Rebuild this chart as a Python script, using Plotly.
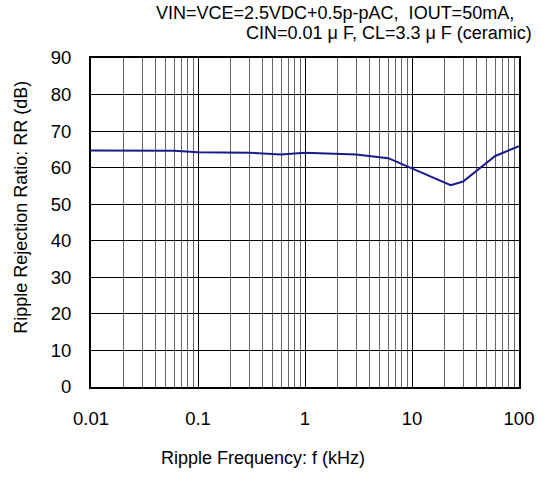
import plotly.graph_objects as go

freq_khz = [0.01, 0.06, 0.1, 0.3, 0.6, 1.0, 3.0, 6.0, 23, 30, 60, 100]
rr_db = [64.7, 64.6, 64.2, 64.1, 63.6, 64.1, 63.6, 62.6, 55.2, 56.2, 63.2, 65.9]

title_lines = ["VIN=VCE=2.5VDC+0.5p-pAC,  IOUT=50mA,",
               "CIN=0.01 μ F, CL=3.3 μ F (ceramic)"]
x_title = "Ripple Frequency: f (kHz)"
y_title = "Ripple Rejection Ratio: RR (dB)"
x_ticks = [0.01, 0.1, 1, 10, 100]
x_ticklabels = ["0.01", "0.1", "1", "10", "100"]

fig = go.Figure()
fig.add_trace(go.Scatter(x=freq_khz, y=rr_db, mode="lines",
                         line=dict(color="#1a1a8c", width=2), showlegend=False))

font = "Arial, Liberation Sans, sans-serif"
fig.update_layout(
    width=546, height=482,
    margin=dict(l=91, r=21, t=58, b=95),
    paper_bgcolor="white", plot_bgcolor="white",
    font=dict(family=font, color="black", size=18),
    xaxis=dict(type="log", range=[-2, 2], tickvals=x_ticks, ticktext=x_ticklabels,
               showgrid=True, gridcolor="black", gridwidth=1,
               minor=dict(showgrid=True, gridcolor="#666666", gridwidth=1,
                          dtick="D1"),
               showline=True, linecolor="black", linewidth=2, mirror=True,
               ticks="", tickfont=dict(size=18.5), ticklabelstandoff=14),
    yaxis=dict(range=[0, 90], dtick=10, showgrid=True, gridcolor="black",
               gridwidth=1, zeroline=False,
               showline=True, linecolor="black", linewidth=2, mirror=True,
               ticks="", tickfont=dict(size=18.5), ticklabelstandoff=14),
)

fig.add_annotation(text=title_lines[0], xref="paper", yref="paper",
                   x=0.993, y=1.137, xanchor="right", yanchor="middle",
                   showarrow=False)
fig.add_annotation(text=title_lines[1], xref="paper", yref="paper",
                   x=1.035, y=1.076, xanchor="right", yanchor="middle",
                   showarrow=False)
fig.add_annotation(text=x_title, xref="paper", yref="paper",
                   x=0.401, y=-0.215, xanchor="center", yanchor="middle",
                   showarrow=False)
fig.add_annotation(text=y_title, xref="paper", yref="paper",
                   x=-0.164, y=0.547, xanchor="center", yanchor="middle",
                   textangle=-90, showarrow=False)

# page has a default body margin; drop it so the figure sits at (0, 0)
fig.write_html("out.html", config={"displayModeBar": False},
               post_script="document.body.style.margin='0';")
